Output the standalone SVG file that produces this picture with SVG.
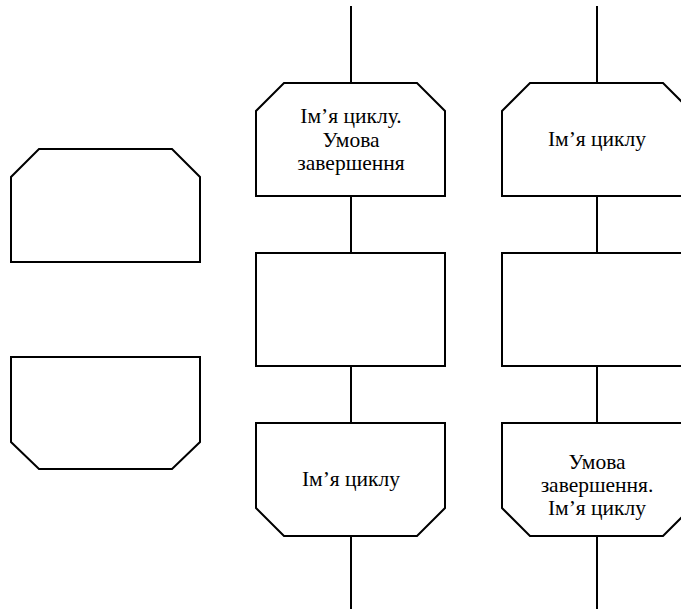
<svg xmlns="http://www.w3.org/2000/svg" width="681" height="615" viewBox="0 0 681 615">
<style>
.s{fill:#fff;stroke:#000;stroke-width:2;stroke-linejoin:miter}
.c{fill:none;stroke:#000;stroke-width:2}
text{font-family:"Liberation Serif","Times New Roman",serif;font-size:21.5px;fill:#000;text-anchor:middle}
</style>
<rect width="681" height="615" fill="#fff"/>
<g id="connectors">
<line class="c" x1="351" y1="6" x2="351" y2="83"/>
<line class="c" x1="351" y1="196" x2="351" y2="253"/>
<line class="c" x1="351" y1="366" x2="351" y2="423"/>
<line class="c" x1="351" y1="536" x2="351" y2="609"/>
<line class="c" x1="597" y1="6" x2="597" y2="83"/>
<line class="c" x1="597" y1="196" x2="597" y2="253"/>
<line class="c" x1="597" y1="366" x2="597" y2="423"/>
<line class="c" x1="597" y1="536" x2="597" y2="609"/>
</g>
<g id="legend-loop-start">
<polygon class="s" points="39,149 172,149 200,177 200,262 11,262 11,177"/>
</g>
<g id="legend-loop-end">
<polygon class="s" points="11,357 200,357 200,442 172,469 39,469 11,442"/>
</g>
<g id="loop1-start">
<polygon class="s" points="284,83 417,83 445,111 445,196 256,196 256,111"/>
<text x="351" y="123">Ім’я циклу.</text>
<text x="351" y="146.5">Умова</text>
<text x="351" y="170">завершення</text>
</g>
<g id="loop1-body">
<rect class="s" x="256" y="253" width="189" height="113"/>
</g>
<g id="loop1-end">
<polygon class="s" points="256,423 445,423 445,508 417,536 284,536 256,508"/>
<text x="351" y="486">Ім’я циклу</text>
</g>
<g id="loop2-start">
<polygon class="s" points="530,83 663,83 691,111 691,196 502,196 502,111"/>
<text x="597" y="146">Ім’я циклу</text>
</g>
<g id="loop2-body">
<rect class="s" x="502" y="253" width="189" height="113"/>
</g>
<g id="loop2-end">
<polygon class="s" points="502,423 691,423 691,508 663,536 530,536 502,508"/>
<text x="597" y="469">Умова</text>
<text x="597" y="492">завершення.</text>
<text x="597" y="515">Ім’я циклу</text>
</g>
</svg>
